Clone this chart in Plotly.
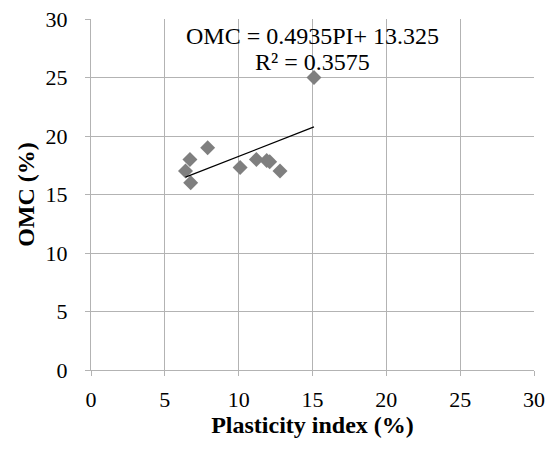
import plotly.graph_objects as go

# Data
pi_vals = [6.4, 6.7, 6.75, 7.9, 10.1, 11.2, 11.9, 12.1, 12.8, 15.1]
omc_vals = [17.0, 18.0, 16.0, 19.0, 17.3, 18.0, 17.9, 17.8, 17.0, 25.0]

# Trendline coefficients (as printed on the chart)
slope = 0.4935
intercept = 13.325
eq_text = "OMC = 0.4935PI+ 13.325"
r2_text = "R² = 0.3575"

tick_vals = [0, 5, 10, 15, 20, 25, 30]

x_lo, x_hi = min(pi_vals), max(pi_vals)
trend_x = [x_lo, x_hi]
trend_y = [slope * v + intercept for v in trend_x]

font_family = "Liberation Serif, Times New Roman, serif"

fig = go.Figure()
fig.add_trace(go.Scatter(
    x=pi_vals, y=omc_vals, mode="markers",
    marker=dict(symbol="diamond", size=11.5, color="#7f7f7f", line=dict(width=0)),
    showlegend=False, cliponaxis=False,
))
fig.add_trace(go.Scatter(
    x=trend_x, y=trend_y, mode="lines",
    line=dict(color="black", width=1.3),
    showlegend=False,
))

for txt, yp in [(eq_text, 0.952), (r2_text, 0.878)]:
    fig.add_annotation(
        x=15, y=yp, xref="x", yref="paper", xanchor="center", yanchor="middle",
        text=txt, showarrow=False, align="center",
        font=dict(family=font_family, size=24, color="black"),
    )

axis_common = dict(
    range=[0, 30], tickvals=tick_vals, ticktext=[str(v) for v in tick_vals],
    showgrid=True, gridcolor="#b3b3b3", gridwidth=1,
    showline=True, linecolor="#b3b3b3", linewidth=1,
    ticks="outside", ticklen=5, tickcolor="#b3b3b3",
    zeroline=False, automargin=False,
    tickfont=dict(family=font_family, size=22, color="black"),
)

fig.update_xaxes(
    **axis_common, ticklabelstandoff=5,
    title=dict(text="<b>Plasticity index (%)</b>", font=dict(family=font_family, size=24, color="black"), standoff=4),
)
fig.update_yaxes(
    **axis_common, ticklabelstandoff=13,
    title=dict(text="<b>OMC (%)</b>", font=dict(family=font_family, size=24, color="black"), standoff=4),
)

fig.update_layout(
    width=550, height=449,
    margin=dict(l=91, r=16, t=19, b=79),
    paper_bgcolor="white", plot_bgcolor="white",
)

fig.write_html("out.html")
